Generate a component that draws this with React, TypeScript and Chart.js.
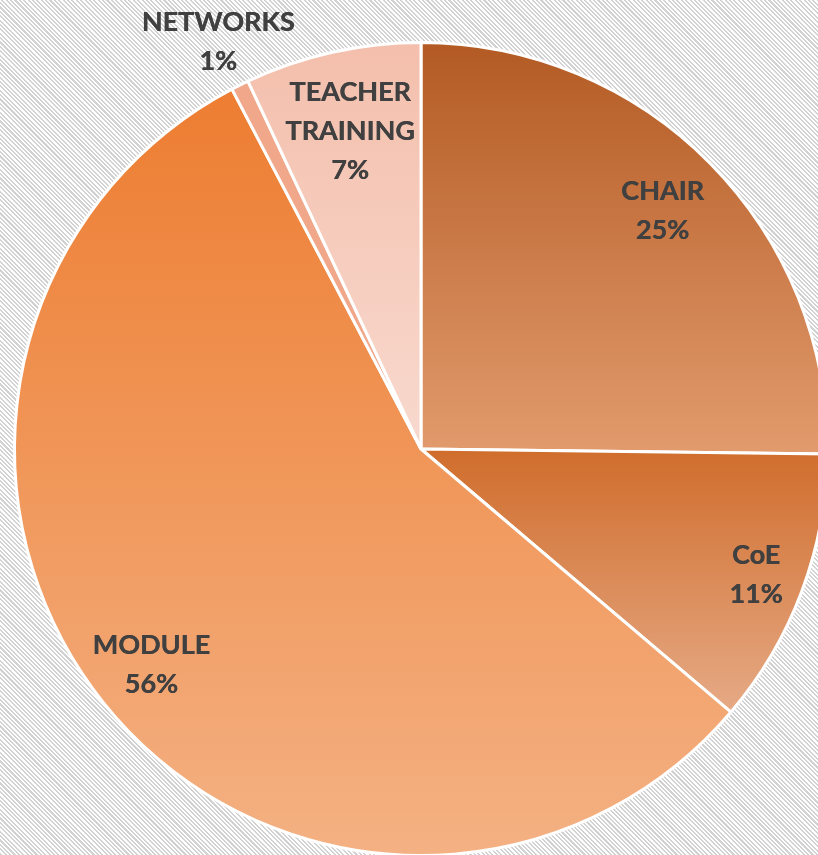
import React, { useEffect, useRef } from "react";
import { Chart, registerables } from "chart.js";

Chart.register(...registerables);

const categories = ["CHAIR", "CoE", "MODULE", "NETWORKS", "TEACHER TRAINING"];
const labelLines = [["CHAIR"], ["CoE"], ["MODULE"], ["NETWORKS"], ["TEACHER", "TRAINING"]];
const values = [25.2, 11.0, 56.1, 0.7, 7.0];
const topColors = ["#b35a23", "#d06d2c", "#ed7d31", "#f0a78a", "#f4bfac"];
const bottomColors = ["#e29b6d", "#e6aa86", "#f4b183", "#f0a78a", "#f8d9ce"];

const labelRadiusFactor = [0.835, 0.88, 0.85, 1.12, 0.8];

function sliceAngles(i: number) {
  const total = values.reduce((a, b) => a + b, 0);
  let start = 0;
  for (let k = 0; k < i; k++) start += values[k];
  const a0 = -Math.PI / 2 + (start / total) * Math.PI * 2;
  const a1 = a0 + (values[i] / total) * Math.PI * 2;
  return [a0, a1];
}

function sliceYExtent(cy: number, r: number, a0: number, a1: number) {
  let ymin = cy, ymax = cy;
  const pts = [a0, a1];
  for (let k = -2; k <= 4; k++) {
    const a = (k * Math.PI) / 2;
    if (a > a0 && a < a1) pts.push(a);
  }
  for (const a of pts) {
    const y = cy + r * Math.sin(a);
    ymin = Math.min(ymin, y);
    ymax = Math.max(ymax, y);
  }
  return [ymin, ymax];
}

const labelPlugin = {
  id: "sliceLabels",
  afterDatasetsDraw(chart: any) {
    const meta = chart.getDatasetMeta(0);
    const ctx = chart.ctx;
    ctx.save();
    ctx.font = "700 27px Lato";
    ctx.fillStyle = "#404040";
    ctx.textAlign = "center";
    ctx.textBaseline = "middle";
    const total = values.reduce((a, b) => a + b, 0);
    meta.data.forEach((arc: any, i: number) => {
      const mid = (arc.startAngle + arc.endAngle) / 2;
      const r = arc.outerRadius * labelRadiusFactor[i];
      const x = arc.x + Math.cos(mid) * r;
      const y = arc.y + Math.sin(mid) * r;
      const lines = [...labelLines[i], Math.round((values[i] / total) * 100) + "%"];
      const lh = 39;
      const y0 = y - ((lines.length - 1) * lh) / 2;
      lines.forEach((t, j) => {
        ctx.fillText(t, x, y0 + j * lh);
        ctx.fillText(t, x + 0.4, y0 + j * lh);
      });
    });
    ctx.restore();
  },
};

export default function App() {
  const ref = useRef<HTMLCanvasElement>(null);
  useEffect(() => {
    document.body.style.margin = "0";
    document.body.style.overflow = "hidden";
    document.documentElement.style.overflow = "hidden";
    const chart = new Chart(ref.current!, {
      type: "pie",
      data: {
        labels: categories,
        datasets: [
          {
            data: values,
            backgroundColor: (c: any) => {
              const ch = c.chart;
              const area = ch.chartArea;
              const i = c.dataIndex;
              if (!area || i === undefined) return topColors[0];
              const cx = (area.left + area.right) / 2;
              const cy = (area.top + area.bottom) / 2;
              const r = Math.min(area.right - area.left, area.bottom - area.top) / 2;
              const [a0, a1] = sliceAngles(i);
              const [y0, y1] = sliceYExtent(cy, r, a0, a1);
              const grad = ch.ctx.createLinearGradient(cx, y0, cx, y1);
              grad.addColorStop(0, topColors[i]);
              grad.addColorStop(1, bottomColors[i]);
              return grad;
            },
            borderColor: "#ffffff",
            borderWidth: 3,
            hoverOffset: 0,
            offset: 0,
          },
        ],
      },
      options: {
        animation: false,
        responsive: false,
        maintainAspectRatio: false,
        layout: { padding: { left: 13, right: 13, top: 41, bottom: 41 } },
        plugins: {
          legend: { display: false },
          tooltip: { enabled: false },
        },
      },
      plugins: [labelPlugin],
    });
    return () => chart.destroy();
  }, []);
  return (
    <div
      style={{
        position: "fixed",
        left: 0,
        top: 0,
        width: 842,
        height: 898,
        background:
          "repeating-linear-gradient(45deg, #d2d2d2 0px, #d2d2d2 1.5px, #ffffff 1.5px, #ffffff 3.1px)",
      }}
    >
      <canvas ref={ref} width={842} height={898} style={{ width: 842, height: 898, display: "block" }} />
    </div>
  );
}
